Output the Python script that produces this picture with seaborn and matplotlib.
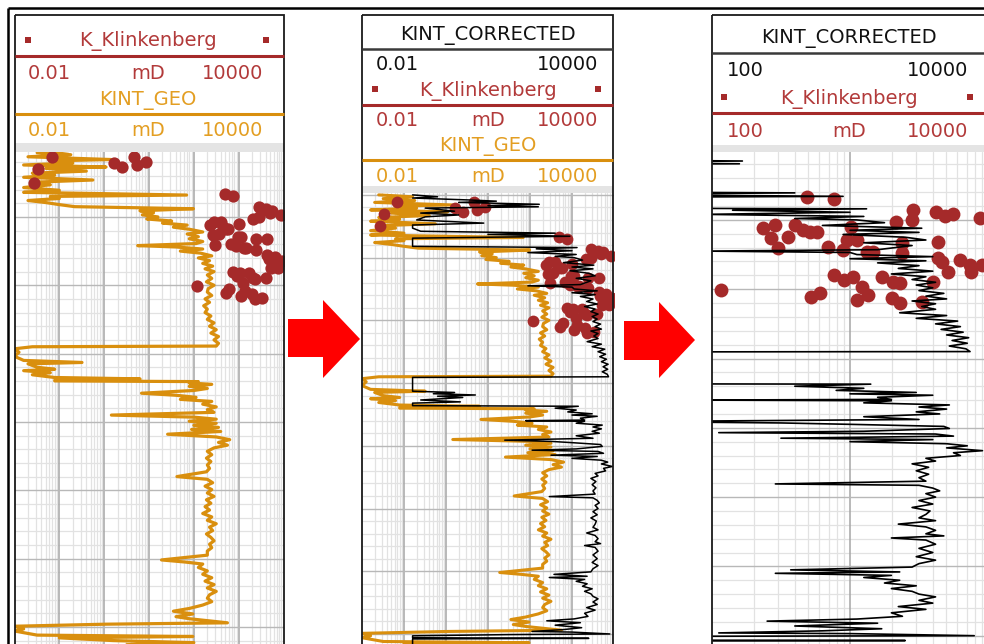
import numpy as np
import pandas as pd
import matplotlib
matplotlib.use("Agg")
import matplotlib.pyplot as plt
from matplotlib.patches import Rectangle, Polygon
import seaborn as sns

# ---------------------------------------------------------------- data
# KINT_GEO permeability log (depth m, mD)
geo_depth = [
    2000.0, 2000.3, 2000.6, 2000.9, 2001.2, 2001.6, 2001.8, 2002.1, 2002.4, 2002.7,
    2002.9, 2003.3, 2003.6, 2003.9, 2004.2, 2004.6, 2004.9, 2005.3, 2005.7, 2006.1,
    2006.4, 2006.8, 2007.0, 2007.3, 2007.6, 2007.9, 2008.2, 2008.5, 2008.8, 2009.1,
    2009.4, 2009.7, 2010.0, 2010.3, 2010.6, 2010.9, 2011.2, 2011.5, 2011.8, 2012.2,
    2012.5, 2012.9, 2013.2, 2013.6, 2013.9, 2014.2, 2014.4, 2014.7, 2015.0, 2015.3,
    2015.7, 2016.0, 2016.4, 2016.8, 2017.2, 2017.6, 2018.0, 2018.5, 2019.0, 2019.5,
    2020.0, 2020.5, 2021.0, 2021.5, 2022.0, 2022.5, 2023.0, 2023.5, 2024.0, 2024.5,
    2025.0, 2025.5, 2026.0, 2026.5, 2027.0, 2027.5, 2028.0, 2028.5, 2028.9, 2029.0,
    2029.3, 2029.8, 2030.4, 2031.0, 2031.3, 2031.5, 2032.0, 2032.3, 2032.5, 2032.8,
    2033.1, 2033.5, 2033.7, 2033.9, 2034.0, 2034.1, 2034.3, 2034.5, 2034.8, 2035.1,
    2035.4, 2035.8, 2036.1, 2036.4, 2036.7, 2037.0, 2037.4, 2037.8, 2038.2, 2038.6,
    2039.0, 2039.3, 2039.6, 2039.9, 2040.2, 2040.5, 2040.8, 2041.1, 2041.4, 2041.8,
    2042.2, 2042.6, 2043.0, 2043.4, 2043.8, 2044.3, 2044.8, 2045.3, 2045.8, 2046.3,
    2046.8, 2047.3, 2048.0, 2048.4, 2048.9, 2049.4, 2049.9, 2050.4, 2050.9, 2051.4,
    2051.9, 2052.4, 2052.9, 2053.4, 2053.9, 2054.4, 2054.9, 2055.4, 2055.9, 2056.4,
    2056.9, 2057.4, 2057.9, 2058.4, 2058.9, 2059.5, 2060.2, 2060.5, 2060.8, 2061.3,
    2061.8, 2062.3, 2062.8, 2063.3, 2063.8, 2064.3, 2064.8, 2065.3, 2065.8, 2066.3,
    2066.8, 2067.3, 2067.7, 2068.1, 2068.5, 2068.8, 2069.4, 2069.6, 2069.9, 2070.3,
    2070.6, 2071.2, 2071.4, 2071.6, 2072.0, 2072.3, 2072.6,
]
geo_perm = [
    0.025, 0.16, 0.032, 0.18, 0.02, 1.4, 0.063, 0.2, 0.016, 1.1,
    0.05, 0.4, 0.025, 0.079, 0.016, 0.56, 0.032, 0.063, 0.016, 0.1,
    0.016, 69, 0.063, 0.1, 0.02, 0.05, 0.1, 0.22, 98, 6.3,
    12.6, 7.1, 15.8, 8.9, 32, 20, 71, 35, 79, 158,
    71, 126, 79, 158, 112, 5.6, 40, 158, 50, 141,
    251, 126, 224, 158, 263, 178, 282, 200, 251, 191,
    282, 209, 200, 251, 178, 224, 166, 200, 178, 240,
    200, 282, 224, 316, 240, 355, 282, 355, 316, 0.025,
    0.01, 0.0126, 0.01, 0.016, 0.32, 0.02, 0.032, 0.079, 0.016, 0.063,
    0.025, 0.079, 6.3, 0.079, 0.079, 126, 79, 251, 79, 200,
    100, 6.8, 40, 112, 50, 251, 158, 316, 200, 282,
    1.45, 100, 316, 79, 316, 100, 355, 89, 398, 26,
    316, 631, 355, 562, 282, 200, 251, 191, 240, 200,
    224, 191, 42, 200, 263, 178, 251, 200, 282, 191,
    240, 178, 224, 158, 251, 200, 316, 224, 263, 191,
    240, 282, 224, 251, 200, 200, 19, 63, 158, 126,
    200, 158, 251, 178, 282, 200, 316, 224, 200, 251,
    158, 79, 35, 95, 40, 79, 562, 1.1, 0.01, 0.016,
    0.01, 0.032, 95, 0.1, 1.6, 100, 3.2,
]

# KINT_CORRECTED permeability log (depth m, mD)
cor_depth = [
    2000.0, 2000.3, 2000.5, 2000.8, 2001.0, 2001.2, 2001.5, 2001.7, 2001.9, 2002.1,
    2002.6, 2002.9, 2003.2, 2003.5, 2004.0, 2004.5, 2004.8, 2005.3, 2005.8, 2006.1,
    2006.3, 2006.6, 2006.9, 2008.2, 2008.4, 2008.6, 2008.9, 2009.2, 2009.5, 2009.8,
    2010.0, 2010.4, 2010.8, 2011.2, 2011.5, 2011.8, 2012.1, 2012.5, 2012.9, 2013.3,
    2013.7, 2014.3, 2014.5, 2014.7, 2015.0, 2015.3, 2015.6, 2015.9, 2016.2, 2016.6,
    2017.0, 2017.4, 2017.8, 2018.2, 2018.6, 2019.0, 2019.4, 2019.8, 2020.2, 2020.6,
    2021.0, 2021.4, 2021.7, 2022.1, 2022.5, 2022.9, 2023.4, 2023.8, 2024.2, 2024.6,
    2025.0, 2025.4, 2025.8, 2026.2, 2026.6, 2027.0, 2027.4, 2027.8, 2028.2, 2028.6,
    2029.0, 2029.1, 2031.3, 2031.5, 2031.7, 2031.9, 2032.1, 2032.3, 2032.7, 2033.0,
    2033.2, 2033.6, 2033.7, 2034.0, 2034.3, 2034.6, 2034.9, 2035.1, 2035.3, 2035.6,
    2035.9, 2036.0, 2036.1, 2036.4, 2036.7, 2037.0, 2037.3, 2037.7, 2038.0, 2038.4,
    2038.8, 2039.1, 2039.3, 2039.5, 2039.8, 2040.1, 2040.5, 2040.7, 2040.9, 2041.2,
    2041.5, 2041.7, 2042.0, 2042.3, 2042.6, 2042.9, 2043.3, 2043.6, 2044.0, 2044.4,
    2044.8, 2045.2, 2045.7, 2046.2, 2046.7, 2047.2, 2047.7, 2048.1, 2048.3, 2048.7,
    2049.1, 2049.5, 2050.0, 2050.5, 2051.0, 2051.5, 2052.0, 2052.5, 2053.0, 2053.4,
    2053.9, 2054.3, 2054.8, 2055.3, 2055.6, 2055.9, 2056.2, 2056.8, 2057.4, 2058.0,
    2058.6, 2059.1, 2059.6, 2060.1, 2060.5, 2060.8, 2061.0, 2061.3, 2061.6, 2062.0,
    2062.4, 2062.8, 2063.2, 2063.6, 2064.0, 2064.4, 2064.9, 2065.3, 2065.8, 2066.2,
    2066.7, 2067.2, 2067.6, 2067.9, 2068.2, 2068.6, 2069.0, 2069.3, 2069.6, 2069.7,
    2070.0, 2070.1, 2070.3, 2070.6, 2070.7, 2070.8, 2072.6,
]
cor_perm = [
    0.16, 0.63, 0.16, 3.2, 15.8, 2.0, 166, 10, 158, 0.32,
    1.6, 0.25, 2.0, 0.32, 0.2, 7.9, 0.16, 0.16, 0.25, 398,
    10, 891, 0.16, 0.16, 1318, 141, 1000, 89, 1259, 398,
    1122, 1778, 631, 3311, 1000, 3162, 891, 2512, 3548, 1259,
    2818, 1585, 89, 1000, 1122, 3981, 1000, 3548, 1585, 3162,
    2239, 3981, 1995, 3548, 2818, 4169, 3020, 3981, 3162, 4786,
    3548, 5012, 2818, 4169, 3311, 4169, 2291, 5012, 3020, 6026,
    4169, 6310, 4571, 6607, 5012, 7244, 5495, 7079, 5248, 6918,
    7413, 0.16, 0.16, 1.6, 0.5, 5.0, 0.63, 2.5, 0.25, 2.2,
    0.16, 0.16, 1413, 398, 1259, 794, 3020, 1000, 3981, 1585,
    1995, 79, 1995, 1259, 5248, 3162, 5012, 3020, 4467, 1259,
    3162, 25, 316, 1000, 4786, 5248, 1259, 112, 4169, 5623,
    316, 3981, 1000, 5012, 7079, 5012, 9120, 5623, 6310, 3548,
    4169, 2818, 3715, 3020, 3715, 3162, 3548, 288, 3162, 3981,
    4467, 3548, 4169, 3162, 3981, 2818, 3802, 3548, 3162, 4169,
    2239, 3548, 4169, 3548, 4786, 1995, 3548, 4169, 3162, 3981,
    3020, 4169, 3162, 2818, 372, 2291, 288, 1995, 1259, 2291,
    1778, 3020, 1995, 2818, 3162, 4169, 3162, 3981, 2239, 3548,
    1995, 2399, 1122, 251, 1585, 398, 1698, 631, 112, 1000,
    7943, 32, 0.16, 0.16, 2512, 0.16, 0.16,
]

# K_Klinkenberg core plug measurements (depth m, mD)
core_depth = [
    2006.7, 2007.0, 2008.6, 2010.0, 2010.3, 2008.9, 2009.4, 2009.1, 2009.7, 2011.2,
    2010.7, 2012.6, 2012.5, 2010.7, 2011.5, 2011.7, 2011.7, 2014.1, 2013.9, 2011.0,
    2014.3, 2012.9, 2014.6, 2014.6, 2012.9, 2013.3, 2014.8, 2013.2, 2015.5, 2016.1,
    2017.5, 2015.8, 2016.5, 2017.5, 2016.5, 2018.0, 2018.7, 2018.2, 2018.2, 2019.0,
    2019.1, 2019.7, 2020.8, 2021.6, 2021.3, 2022.0, 2021.8, 2019.0, 2021.1, 2020.5,
    2020.1, 2001.2, 2003.0, 2005.0, 2002.1, 2002.7, 2001.2, 2002.4, 2002.0,
]
core_perm = [
    490, 760, 2880, 2820, 2140, 4170, 4900, 5620, 8710, 234,
    288, 269, 355, 398, 457, 513, 575, 302, 692, 1020,
    891, 955, 1320, 1480, 1120, 2400, 2400, 4370, 4370, 4680,
    5130, 6310, 7410, 7590, 9120, 760, 912, 1050, 1700, 2040,
    2290, 1230, 1350, 1120, 2000, 2290, 3310, 3980, 525, 603,
    117, 0.068, 0.033, 0.027, 1.66, 2.5, 4.7, 5.5, 8.7,
]

geo = pd.DataFrame({"depth": geo_depth, "perm": geo_perm})
cor = pd.DataFrame({"depth": cor_depth, "perm": cor_perm})
core = pd.DataFrame({"depth": core_depth, "perm": core_perm})

# ---------------------------------------------------------------- style
sns.set_theme(style="white")
plt.rcParams["font.family"] = ["DejaVu Sans"]

W, H = 984, 644
RED = "#A52A2A"
RED_TXT = "#B23A3A"
ORANGE = "#D98F0E"
ORANGE_TXT = "#E39E22"
FS = 14

fig = plt.figure(figsize=(W / 100, H / 100), dpi=100)
fig.patch.set_facecolor("white")


def px_axes(x0, y0, x1, y1, **kw):
    """Axes placed by pixel box (top-left origin)."""
    return fig.add_axes([x0 / W, 1 - y1 / H, (x1 - x0) / W, (y1 - y0) / H], **kw)


def style_track(ax, xlim, ylim):
    """Log-scaled permeability track with a depth grid drawn inside the axes."""
    ax.set_xscale("log")
    ax.set_xlim(*xlim)
    ax.set_ylim(*ylim)
    lo, hi = int(np.log10(xlim[0])), int(np.log10(xlim[1]))
    for e in range(lo, hi):
        for m in range(2, 10):
            ax.axvline(m * 10.0 ** e, color="#e2e2e2", lw=0.9, zorder=0)
    for e in range(lo + 1, hi):
        ax.axvline(10.0 ** e, color="#a5a5a5", lw=1.1, zorder=0.5)
    dmin, dmax = min(ylim), max(ylim)
    for d in np.arange(np.ceil(dmin / 2) * 2, dmax, 2):
        major = int(round(d)) % 10 == 0
        ax.axhline(d, color="#b8b8b8" if major else "#e2e2e2",
                   lw=1.0 if major else 0.9, zorder=0.5 if major else 0)
    ax.set_xticks([])
    ax.set_yticks([])
    ax.set_xticks([], minor=True)
    ax.set_yticks([], minor=True)
    ax.set_xlabel("")
    ax.set_ylabel("")
    for s in ax.spines.values():
        s.set_visible(False)
    ax.set_facecolor("white")


def draw_geo(ax, lw=2.3):
    sns.lineplot(data=geo, x="perm", y="depth", sort=False, estimator=None,
                 color=ORANGE, lw=lw, ax=ax, legend=False, zorder=2)


def draw_cor(ax, lw=1.1):
    sns.lineplot(data=cor, x="perm", y="depth", sort=False, estimator=None,
                 color="black", lw=lw, ax=ax, legend=False, zorder=4)


def draw_core(ax, s=55):
    sns.scatterplot(data=core, x="perm", y="depth", color=RED, s=s,
                    linewidth=0, ax=ax, legend=False, zorder=3)


# ---------------------------------------------------------------- tracks
ax1 = px_axes(14.5, 152, 283.5, 644)
ax1.set_xscale("log")
draw_geo(ax1)
draw_core(ax1, s=78)
style_track(ax1, (0.01, 10000), (2072.5, 2000.5))

ax2 = px_axes(362, 193, 614, 644)
ax2.set_xscale("log")
draw_geo(ax2, lw=2.2)
draw_core(ax2, s=72)
draw_cor(ax2)
style_track(ax2, (0.01, 10000), (2071.6, 1999.7))

ax3 = px_axes(712, 152, 988, 644)
ax3.set_xscale("log")
draw_core(ax3, s=100)
draw_cor(ax3, lw=1.2)
style_track(ax3, (100, 10000), (2071.2, 2000.2))

# ---------------------------------------------------------------- headers, frames, arrows
ov = fig.add_axes([0, 0, 1, 1], zorder=10)
ov.set_xlim(0, W)
ov.set_ylim(H, 0)
ov.axis("off")
ov.patch.set_alpha(0)

# outer frame
ov.plot([8, W], [8, 8], color="black", lw=1.8, solid_capstyle="butt")
ov.plot([8, 8], [8, H], color="black", lw=1.8, solid_capstyle="butt")

# grey strips above each track
for x0, x1, y0, y1 in [(14.5, 283.5, 143, 152), (362, 613, 186, 193), (712, 990, 145, 152)]:
    ov.add_patch(Rectangle((x0, y0), x1 - x0, y1 - y0, color="#e4e4e4", lw=0))

# track frames
for x0, x1 in [(14.5, 283.5), (362, 613), (712, 1000)]:
    ov.add_patch(Rectangle((x0, 15), x1 - x0, 700, fill=False, ec="#1a1a1a", lw=1.3))


def header_line(x0, x1, y, color, lw=2.2):
    ov.plot([x0, x1], [y, y], color=color, lw=lw, solid_capstyle="butt")


def square(x, y, color=RED):
    ov.add_patch(Rectangle((x - 2.6, y - 2.6), 5.2, 5.2, color=color, lw=0))


def txt(x, y, s, color, ha="center"):
    ov.text(x, y, s, color=color, fontsize=FS, ha=ha, va="center")


# track 1
txt(148, 41, "K_Klinkenberg", RED_TXT)
square(28, 40)
square(266, 40)
header_line(14.5, 283.5, 56, RED)
txt(28, 73, "0.01", RED_TXT, "left")
txt(148, 73, "mD", RED_TXT)
txt(263, 73, "10000", RED_TXT, "right")
txt(148, 100, "KINT_GEO", ORANGE_TXT)
header_line(14.5, 283.5, 114, ORANGE)
txt(28, 130, "0.01", ORANGE_TXT, "left")
txt(148, 130, "mD", ORANGE_TXT)
txt(263, 130, "10000", ORANGE_TXT, "right")

# track 2
txt(488, 35, "KINT_CORRECTED", "#111111")
header_line(362, 613, 49, "#3a3a3a", lw=1.8)
txt(376, 64, "0.01", "#111111", "left")
txt(598, 64, "10000", "#111111", "right")
txt(488, 91, "K_Klinkenberg", RED_TXT)
square(375, 89)
square(598, 89)
header_line(362, 613, 105, RED)
txt(376, 120, "0.01", RED_TXT, "left")
txt(488, 120, "mD", RED_TXT)
txt(598, 120, "10000", RED_TXT, "right")
txt(488, 146, "KINT_GEO", ORANGE_TXT)
header_line(362, 613, 160, ORANGE)
txt(376, 176, "0.01", ORANGE_TXT, "left")
txt(488, 176, "mD", ORANGE_TXT)
txt(598, 176, "10000", ORANGE_TXT, "right")

# track 3
txt(849, 38, "KINT_CORRECTED", "#111111")
header_line(712, W, 53, "#3a3a3a", lw=1.8)
txt(727, 70, "100", "#111111", "left")
txt(968, 70, "10000", "#111111", "right")
txt(849, 99, "K_Klinkenberg", RED_TXT)
square(724, 97)
square(970, 97)
header_line(712, W, 113, RED)
txt(727, 131, "100", RED_TXT, "left")
txt(849, 131, "mD", RED_TXT)
txt(968, 131, "10000", RED_TXT, "right")

# arrows between tracks
for xs, xh, xt, ys0, ys1, yh0, yh1 in [(288, 323, 360, 319, 357, 300, 378),
                                       (624, 659, 695, 321, 360, 302, 378)]:
    yc = (yh0 + yh1) / 2
    ov.add_patch(Polygon([(xs, ys0), (xh, ys0), (xh, yh0), (xt, yc),
                          (xh, yh1), (xh, ys1), (xs, ys1)],
                         closed=True, color="#ff0000", lw=0))

fig.savefig("out.png", dpi=100, facecolor="white")
